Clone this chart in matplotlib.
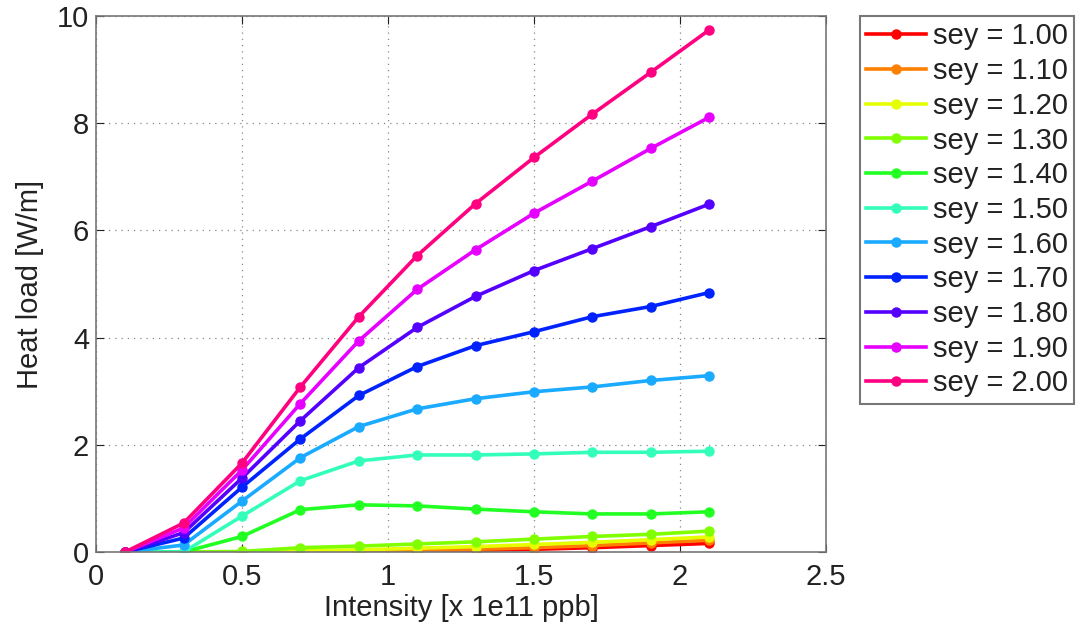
import matplotlib
matplotlib.use("Agg")
import matplotlib.pyplot as plt

plt.rcParams['font.family'] = ['Liberation Sans', 'DejaVu Sans']

intensity = [0.1, 0.3, 0.5, 0.7, 0.9, 1.1, 1.3, 1.5, 1.7, 1.9, 2.1]
sey_values = [1.00, 1.10, 1.20, 1.30, 1.40, 1.50, 1.60, 1.70, 1.80, 1.90, 2.00]

heat_100 = [0, 0, 0, 0, 0.005, 0.01, 0.03, 0.05, 0.08, 0.12, 0.16]
heat_110 = [0, 0, 0, 0, 0.01, 0.03, 0.05, 0.08, 0.12, 0.17, 0.22]
heat_120 = [0, 0, 0, 0.02, 0.04, 0.07, 0.10, 0.14, 0.18, 0.23, 0.28]
heat_130 = [0, 0, 0.01, 0.08, 0.11, 0.15, 0.19, 0.24, 0.29, 0.33, 0.39]
heat_140 = [0, 0, 0.29, 0.79, 0.88, 0.86, 0.80, 0.75, 0.71, 0.71, 0.75]
heat_150 = [0, 0, 0.67, 1.33, 1.70, 1.81, 1.81, 1.83, 1.86, 1.86, 1.88]
heat_160 = [0, 0.13, 0.95, 1.76, 2.34, 2.67, 2.86, 2.99, 3.08, 3.20, 3.29]
heat_170 = [0, 0.26, 1.21, 2.11, 2.92, 3.46, 3.85, 4.11, 4.39, 4.58, 4.84]
heat_180 = [0, 0.36, 1.38, 2.45, 3.44, 4.19, 4.77, 5.25, 5.66, 6.07, 6.49]
heat_190 = [0, 0.45, 1.53, 2.77, 3.94, 4.90, 5.64, 6.32, 6.92, 7.53, 8.11]
heat_200 = [0, 0.54, 1.66, 3.08, 4.39, 5.53, 6.50, 7.36, 8.17, 8.95, 9.74]

series = [heat_100, heat_110, heat_120, heat_130, heat_140, heat_150,
          heat_160, heat_170, heat_180, heat_190, heat_200]
colors = ['#ff0000', '#ff8000', '#e6ff00', '#80ff00', '#22ff22', '#33ffbb',
          '#1aaaff', '#0022ff', '#5500ff', '#e600ff', '#ff0080']

x_ticks = [0, 0.5, 1, 1.5, 2, 2.5]
x_tick_labels = ['0', '0.5', '1', '1.5', '2', '2.5']
y_ticks = [0, 2, 4, 6, 8, 10]

FS = 21

fig = plt.figure(figsize=(10.78, 6.32), dpi=100)
ax = fig.add_axes([0.0891, 0.1266, 0.6771, 0.8481])

for sey, vals, col in zip(sey_values, series, colors):
    ax.plot(intensity, vals, '-o', color=col, lw=2.6, ms=6.5,
            label='sey = %.2f' % sey)

ax.set_xlim(0, 2.5)
ax.set_ylim(0, 10)
ax.set_xticks(x_ticks)
ax.set_xticklabels(x_tick_labels)
ax.set_yticks(y_ticks)
ax.grid(True, linestyle=(0, (1, 4)), color='#888888', lw=0.9)
ax.tick_params(direction='in', length=6, labelsize=FS, colors='#222222',
               top=True, right=True)
ax.tick_params(axis='x', pad=8)
ax.tick_params(axis='y', pad=5)
for s in ax.spines.values():
    s.set_color('#777777')
    s.set_linewidth(1.2)

ax.set_xlabel('Intensity [x 1e11 ppb]', fontsize=FS, color='#222222', labelpad=2)
ax.set_ylabel('Heat load [W/m]', fontsize=FS, color='#222222', labelpad=9)

leg = ax.legend(loc='upper left', bbox_to_anchor=(1.046, 1.0), fontsize=FS,
                frameon=True, fancybox=False, borderpad=0.22,
                labelspacing=0.23, handlelength=2.05, handletextpad=0.25,
                borderaxespad=0)
leg.get_frame().set_edgecolor('#555555')
leg.get_frame().set_linewidth(1.5)
for t in leg.get_texts():
    t.set_color('#222222')

fig.savefig('out.png', dpi=100)
